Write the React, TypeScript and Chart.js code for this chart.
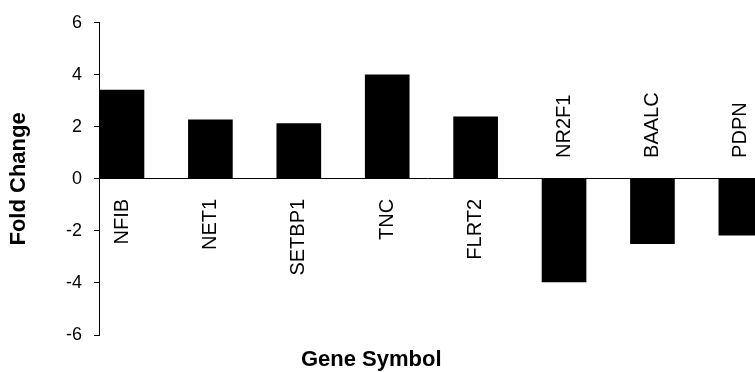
import React, { useEffect, useRef } from "react";
import { Chart, registerables } from "chart.js";

Chart.register(...registerables);

const categories = ["NFIB", "NET1", "SETBP1", "TNC", "FLRT2", "NR2F1", "BAALC", "PDPN"];
const foldChange = [3.41, 2.27, 2.13, 4.0, 2.39, -3.96, -2.49, -2.16];
const yTicks = [-6, -4, -2, 0, 2, 4, 6];
const xTitle = "Gene Symbol";
const yTitle = "Fold Change";

const FONT = "'Liberation Sans', Arial, Helvetica, sans-serif";

const textPlugin = {
  id: "geneText",
  afterDatasetsDraw(chart: any) {
    const { ctx, chartArea } = chart;
    const x = chart.scales.x;
    const y = chart.scales.y;
    const zero = y.getPixelForValue(0);
    ctx.save();
    ctx.fillStyle = "#000";
    ctx.textBaseline = "middle";
    ctx.font = `20px ${FONT}`;
    categories.forEach((name, i) => {
      const v = foldChange[i];
      const cx = x.getPixelForValue(i);
      ctx.save();
      ctx.translate(cx, v >= 0 ? zero + 20 : zero - 21);
      ctx.rotate(-Math.PI / 2);
      ctx.textAlign = v >= 0 ? "right" : "left";
      ctx.fillText(name, 0, 0);
      ctx.restore();
    });
    // axis titles
    ctx.font = `bold 22px ${FONT}`;
    ctx.textAlign = "center";
    const w = chartArea.right - chartArea.left;
    ctx.fillText(xTitle, chartArea.left + w * 0.415, chartArea.bottom + 25);
    ctx.save();
    ctx.translate(19, (chartArea.top + chartArea.bottom) / 2);
    ctx.rotate(-Math.PI / 2);
    ctx.fillText(yTitle, 0, 0);
    ctx.restore();
    ctx.restore();
  },
};

export default function App() {
  const ref = useRef<HTMLCanvasElement>(null);
  useEffect(() => {
    if (!ref.current) return;
    Chart.defaults.font.family = FONT;
    const chart = new Chart(ref.current, {
      type: "bar",
      data: {
        datasets: [
          {
            data: foldChange.map((v, i) => ({ x: i, y: v })),
            backgroundColor: "#000",
            borderWidth: 0,
            barThickness: 44,
          },
        ],
      },
      options: {
        animation: false,
        responsive: false,
        events: [],
        layout: { padding: { top: 20, bottom: 37, left: 0, right: 0 } },
        plugins: { legend: { display: false }, tooltip: { enabled: false } },
        scales: {
          x: { type: "linear", min: -0.26, max: 7.16, offset: false, display: false },
          y: {
            min: -6,
            max: 6,
            afterBuildTicks: (s: any) => {
              s.ticks = yTicks.map((v) => ({ value: v }));
            },
            afterFit: (s: any) => {
              s.width = 99;
            },
            ticks: { color: "#000", font: { size: 18, family: FONT }, padding: 12 },
            grid: {
              drawOnChartArea: true,
              color: (c: any) => (c.tick && c.tick.value === 0 ? "#000" : "rgba(0,0,0,0)"),
              tickColor: "#000",
              tickLength: 5,
              lineWidth: 1,
            },
            border: { color: "#000", width: 1 },
          },
        },
      },
      plugins: [textPlugin],
    });
    return () => chart.destroy();
  }, []);
  return (
    <div style={{ position: "fixed", left: 0, top: 0, width: 755, height: 372, background: "#fff" }}>
      <canvas ref={ref} width={755} height={372} style={{ display: "block" }} />
    </div>
  );
}
